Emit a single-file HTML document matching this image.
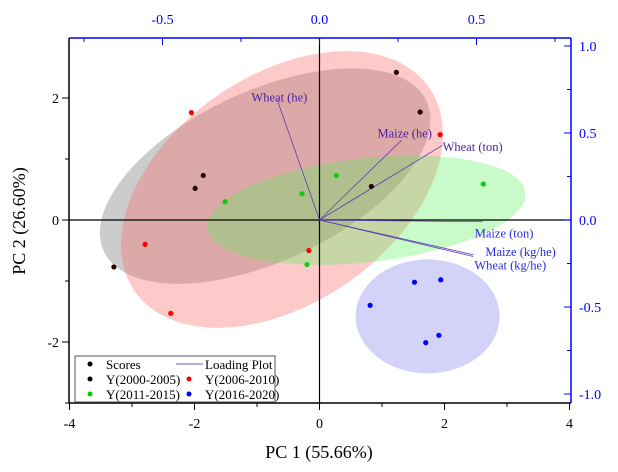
<!DOCTYPE html>
<html><head><meta charset="utf-8"><style>
body{margin:0;background:#fff}
svg{display:block;font-family:"Liberation Serif",serif}
</style></head><body>
<svg id="chart" width="618" height="472" viewBox="0 0 618 472" xmlns="http://www.w3.org/2000/svg">
<g id="ell"></g>
<g id="axes"></g>
<g id="load"></g>
<g id="pts"></g>
<g>
<rect x="75" y="356" width="200" height="46" fill="#fff" stroke="#555" stroke-width="1"/>
<circle cx="90" cy="364" r="2.5" fill="#000"/><text x="106" y="369" font-size="13">Scores</text>
<line x1="176" y1="364" x2="203" y2="364" stroke="#6a5acd"/><text x="205" y="369" font-size="13">Loading Plot</text>
<circle cx="90" cy="379" r="2.5" fill="#000"/><text x="106" y="384" font-size="13">Y(2000-2005)</text>
<circle cx="189" cy="379" r="2.5" fill="#f00"/><text x="205" y="384" font-size="13">Y(2006-2010)</text>
<circle cx="90" cy="394" r="2.5" fill="#0c0"/><text x="106" y="399" font-size="13">Y(2011-2015)</text>
<circle cx="189" cy="394" r="2.5" fill="#00f"/><text x="205" y="399" font-size="13">Y(2016-2020)</text>
</g>
<text x="319" y="458" font-size="18" text-anchor="middle">PC 1 (55.66%)</text>
<text transform="translate(25,221) rotate(-90)" font-size="18" text-anchor="middle">PC 2 (26.60%)</text>
</svg>
<script>
const scoreX2000=[1.23,1.61,-1.86,-1.99,0.83,-3.29];
const scoreY2000=[2.42,1.77,0.73,0.52,0.55,-0.77];
const scoreX2006=[-2.05,1.93,-2.79,-0.17,-2.38];
const scoreY2006=[1.76,1.40,-0.40,-0.50,-1.53];
const scoreX2011=[0.27,-0.28,-1.51,2.62,-0.20];
const scoreY2011=[0.73,0.43,0.30,0.59,-0.73];
const scoreX2016=[1.52,1.94,0.81,1.91,1.70];
const scoreY2016=[-1.02,-0.98,-1.40,-1.89,-2.01];
const loadNames=["Wheat (he)","Maize (he)","Wheat (ton)","Maize (ton)","Maize (kg/he)","Wheat (kg/he)"];
const loadX=[-0.134,0.261,0.392,0.52,0.49,0.49];
const loadY=[0.687,0.458,0.43,-0.01,-0.20,-0.21];
const xTicks=[-4,-2,0,2,4];
const yTicks=[-2,0,2];
const topTicks=[-0.5,0.0,0.5];
const rightTicks=[1.0,0.5,0.0,-0.5,-1.0];
const NS="http://www.w3.org/2000/svg";
const L=69,R=571,T=38,B=403;
const X=v=>319.5+62.5*v, Y=v=>220-61*v;
const LX=v=>319.5+314*v, LY=v=>220-174*v;
function mk(p,tag,a){const e=document.createElementNS(NS,tag);for(const k in a)e.setAttribute(k,a[k]);p.appendChild(e);return e;}
const ell=document.getElementById('ell');
const ellipses=[
 {n:'ellipse-2000-2005',c:'rgba(128,128,128,0.4)',cx:-0.87,cy:0.72,rx:178,ry:85,a:-25},
 {n:'ellipse-2006-2010',c:'rgba(250,100,100,0.35)',cx:-0.6,cy:0.5,rx:179,ry:114,a:-34.6},
 {n:'ellipse-2011-2015',c:'rgba(90,240,90,0.33)',cx:0.75,cy:0.16,rx:160,ry:52,a:-6.4},
 {n:'ellipse-2016-2020',c:'rgba(110,110,240,0.3)',cx:1.73,cy:-1.58,rx:72,ry:57,a:0}];
ellipses.forEach(o=>{const e=mk(ell,'ellipse',{cx:X(o.cx),cy:Y(o.cy),rx:o.rx,ry:o.ry,fill:o.c,transform:`rotate(${o.a} ${X(o.cx)} ${Y(o.cy)})`});

});
const ax=document.getElementById('axes');
mk(ax,'line',{x1:L,y1:T,x2:L,y2:B,stroke:'#000','stroke-width':1.5});
mk(ax,'line',{x1:L,y1:B,x2:R,y2:B,stroke:'#000','stroke-width':1.5});
mk(ax,'line',{x1:L,y1:T,x2:R,y2:T,stroke:'#00f','stroke-width':1.5});
mk(ax,'line',{x1:R,y1:T,x2:R,y2:B,stroke:'#00f','stroke-width':1.5});
mk(ax,'line',{x1:L,y1:Y(0),x2:R,y2:Y(0),stroke:'#000','stroke-width':1.2});
mk(ax,'line',{x1:X(0),y1:T,x2:X(0),y2:B,stroke:'#000','stroke-width':1.2});
for(let v=-4;v<=4;v++){mk(ax,'line',{x1:X(v),y1:B,x2:X(v),y2:B+(v%2?4:7),stroke:'#000'});}
xTicks.forEach(v=>{const t=mk(ax,'text',{x:X(v),y:B+25,'font-size':14,'text-anchor':'middle'});t.textContent=v;});
for(let v=-3;v<=2;v++){mk(ax,'line',{x1:L,y1:Y(v),x2:L-(v%2?4:7),y2:Y(v),stroke:'#000'});}
yTicks.forEach(v=>{const t=mk(ax,'text',{x:L-10,y:Y(v)+5,'font-size':14,'text-anchor':'end'});t.textContent=v;});
for(let v=-0.75;v<=0.76;v+=0.25){mk(ax,'line',{x1:LX(v),y1:T,x2:LX(v),y2:T+(Math.abs(v*4)%2?4:7),stroke:'#00f'});}
topTicks.forEach(v=>{const t=mk(ax,'text',{x:LX(v),y:T-14,'font-size':14,'text-anchor':'middle',fill:'#00f'});t.textContent=v.toFixed(1);});
for(let v=-1;v<=1.01;v+=0.25){mk(ax,'line',{x1:R,y1:LY(v),x2:R-(Math.abs(v*4)%2?4:7),y2:LY(v),stroke:'#00f'});}
rightTicks.forEach(v=>{const t=mk(ax,'text',{x:R+8,y:LY(v)+5,'font-size':14,fill:'#00f'});t.textContent=v.toFixed(1);});
const ld=document.getElementById('load');
const lblOff=[[-26,1],[-24,-3],[0,6],[-8,16],[12,1],[1,13]];
loadX.forEach((v,i)=>{const l=mk(ld,'line',{x1:X(0),y1:Y(0),x2:LX(v),y2:LY(loadY[i]),stroke:'#5a3fb0','stroke-width':0.8});


const t=mk(ld,'text',{x:LX(v)+lblOff[i][0],y:LY(loadY[i])+lblOff[i][1],'font-size':12.5,fill:i<3?'#4b1fa0':'#2a2ae0'});t.textContent=loadNames[i];

});
const pts=document.getElementById('pts');
[[scoreX2000,scoreY2000,'#200'],[scoreX2006,scoreY2006,'#f00'],[scoreX2011,scoreY2011,'#1c1'],[scoreX2016,scoreY2016,'#00f']].forEach(([xs,ys,c])=>{
xs.forEach((v,i)=>{const p=mk(pts,'circle',{cx:X(v),cy:Y(ys[i]),r:2.6,fill:c});

});});
</script>
</body></html>
